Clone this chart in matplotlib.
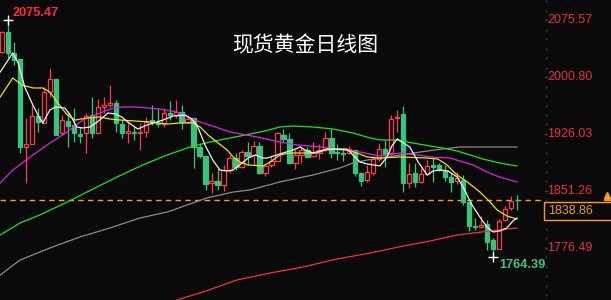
import matplotlib
matplotlib.use("Agg")
import matplotlib.pyplot as plt
import matplotlib.transforms as mtransforms
from matplotlib.patches import Rectangle

BG = "#0a0a0a"
UP = "#ff3b50"
DOWN = "#36c47c"
AXIS_RED = "#e8303e"

# daily candles: open, high, low, close
opens = [2033.6, 2059.8, 2032.3, 2024.4, 1909.0, 1912.9, 1949.6, 1940.5, 1981.1, 1998.2,
         1927.3, 1943.1, 1937.8, 1926.0, 1927.3, 1950.9, 1927.3, 1961.4, 1964.1, 1966.7,
         1939.1, 1927.3, 1928.7, 1927.3, 1928.7, 1944.4, 1940.5, 1939.1, 1953.6, 1950.9,
         1954.9, 1941.8, 1947.0, 1909.0, 1897.2, 1861.7, 1864.4, 1859.1, 1878.8, 1894.5,
         1882.7, 1902.4, 1898.5, 1910.3, 1874.9, 1885.4, 1890.6, 1924.7, 1919.5, 1888.0,
         1898.5, 1905.0, 1897.2, 1901.1, 1905.0, 1920.8, 1902.4, 1901.1, 1901.1, 1905.0,
         1874.9, 1865.7, 1874.9, 1893.2, 1906.3, 1901.1, 1947.0, 1952.3, 1861.7, 1874.9,
         1863.1, 1873.6, 1885.4, 1885.4, 1877.5, 1869.6, 1864.4, 1865.7, 1836.8, 1805.3,
         1804.0, 1808.0, 1787.0, 1775.2, 1813.2, 1828.9, 1839.6]
highs = [2061.0, 2075.47, 2046.7, 2024.4, 1947.0, 1964.1, 1960.1, 1988.1, 2012.6, 1998.2,
         1950.9, 1954.9, 1960.1, 1935.2, 1953.6, 1974.6, 1972.0, 1974.6, 1990.3, 1970.6,
         1944.4, 1941.8, 1936.5, 1940.5, 1948.3, 1964.1, 1960.1, 1960.1, 1969.3, 1970.6,
         1964.1, 1948.3, 1947.0, 1914.2, 1898.5, 1874.9, 1881.4, 1885.4, 1898.5, 1901.1,
         1905.0, 1915.5, 1916.8, 1915.5, 1885.4, 1898.5, 1928.7, 1932.6, 1927.3, 1906.3,
         1909.0, 1909.0, 1915.5, 1912.9, 1928.7, 1932.6, 1912.9, 1907.7, 1910.3, 1905.0,
         1876.2, 1885.4, 1897.2, 1914.2, 1918.2, 1950.9, 1957.5, 1962.8, 1888.0, 1888.0,
         1881.4, 1891.9, 1894.5, 1888.0, 1885.4, 1874.9, 1876.2, 1872.2, 1836.8, 1815.8,
         1818.5, 1813.2, 1789.6, 1814.5, 1831.6, 1844.7, 1846.0]
lows = [2032.0, 2025.7, 2016.5, 1901.1, 1861.7, 1912.9, 1928.7, 1940.5, 1974.6, 1924.7,
        1924.7, 1909.0, 1915.5, 1914.2, 1901.1, 1920.8, 1927.3, 1953.6, 1961.4, 1928.7,
        1920.8, 1914.2, 1918.2, 1905.0, 1922.1, 1937.8, 1935.2, 1935.2, 1944.4, 1947.0,
        1932.6, 1940.5, 1881.4, 1894.5, 1852.6, 1848.6, 1852.6, 1851.3, 1874.9, 1878.8,
        1881.4, 1885.4, 1885.4, 1873.6, 1870.9, 1882.7, 1890.6, 1915.5, 1886.7, 1880.1,
        1888.0, 1895.9, 1895.9, 1893.2, 1903.7, 1894.5, 1891.9, 1890.6, 1899.8, 1870.9,
        1857.8, 1863.1, 1872.2, 1890.6, 1882.7, 1898.5, 1928.7, 1850.0, 1855.2, 1856.5,
        1861.7, 1872.2, 1863.1, 1877.5, 1864.4, 1850.0, 1860.4, 1832.9, 1798.8, 1800.1,
        1804.0, 1773.9, 1764.39, 1775.2, 1811.9, 1826.3, 1826.3]
closes = [2059.8, 2032.3, 2023.1, 1909.0, 1912.9, 1949.6, 1941.8, 1981.1, 1998.2, 1924.7,
          1944.4, 1936.5, 1927.3, 1923.4, 1949.6, 1927.3, 1961.4, 1964.1, 1966.7, 1940.5,
          1927.3, 1930.0, 1927.3, 1928.7, 1941.8, 1941.8, 1939.1, 1953.6, 1950.9, 1954.9,
          1941.8, 1945.7, 1909.0, 1897.2, 1860.4, 1864.4, 1859.1, 1878.8, 1894.5, 1882.7,
          1902.4, 1897.2, 1910.3, 1874.9, 1884.1, 1890.6, 1927.3, 1919.5, 1888.0, 1898.5,
          1905.0, 1895.9, 1901.1, 1905.0, 1920.8, 1901.1, 1901.1, 1899.8, 1906.3, 1874.9,
          1864.4, 1876.2, 1893.2, 1906.3, 1899.8, 1945.7, 1948.3, 1861.7, 1873.6, 1863.1,
          1873.6, 1884.1, 1882.7, 1878.8, 1869.6, 1863.1, 1868.3, 1836.8, 1805.3, 1804.0,
          1806.7, 1784.3, 1775.2, 1811.9, 1827.6, 1838.1, 1838.86]

# moving averages: (day index, price)
ma5_x = [-0.3, 1.8, 2.7, 3.8, 5.0, 6.0, 6.8, 8.0, 8.9, 10.5, 11.4, 12.5, 13.5, 14.7, 15.9,
         16.9, 17.7, 18.9, 20.0, 21.0, 22.2, 22.7, 24.2, 26.9, 28.6, 30.6, 31.7, 32.7, 33.9,
         35.2, 36.4, 37.6, 38.6, 39.7, 41.1, 42.3, 43.6, 44.3, 45.9, 46.9, 48.6, 49.8, 50.6,
         51.9, 53.1, 54.3, 57.6, 58.6, 59.8, 61.0, 63.1, 64.3, 65.1, 66.0, 68.1, 69.5, 71.0,
         72.0, 73.1, 74.5, 76.0, 77.0, 78.5, 79.8, 81.0, 82.0, 83.1, 84.3, 85.3, 86.0]
ma5_y = [2007.4, 2032.3, 2019.2, 1987.7, 1966.7, 1950.9, 1940.5, 1957.5, 1961.4, 1960.1,
         1950.9, 1935.2, 1933.9, 1935.2, 1941.8, 1948.3, 1953.6, 1952.3, 1948.3, 1941.8,
         1935.2, 1932.6, 1937.8, 1944.4, 1949.6, 1950.9, 1945.7, 1935.2, 1911.6, 1891.9,
         1878.8, 1877.5, 1878.8, 1885.4, 1894.5, 1898.5, 1894.5, 1894.5, 1898.5, 1901.1,
         1905.0, 1909.0, 1905.0, 1901.1, 1903.7, 1906.3, 1906.3, 1898.5, 1889.3, 1886.7,
         1884.1, 1895.9, 1910.3, 1919.5, 1909.0, 1889.3, 1872.2, 1877.5, 1878.8, 1877.5,
         1869.6, 1856.5, 1832.9, 1817.1, 1804.0, 1797.5, 1798.8, 1802.7, 1811.9, 1815.8]

ma10_x = [-0.3, 1.8, 3.3, 5.2, 6.8, 8.0, 9.2, 10.9, 12.2, 14.2, 16.4, 18.0, 19.7, 22.2,
          24.7, 27.6, 29.7, 31.9, 33.1, 34.4, 35.9, 37.6, 38.6, 39.7, 41.1, 43.6, 44.8,
          46.4, 48.1, 51.9, 53.1, 54.3, 57.6, 59.3, 61.0, 63.1, 66.5, 71.0, 72.8, 74.3,
          76.0, 77.7, 79.8, 81.5, 82.7, 84.3, 86.0]
ma10_y = [1974.6, 1999.5, 1990.3, 1986.4, 1986.4, 1981.1, 1968.0, 1951.0, 1944.4, 1947.0,
          1948.3, 1945.7, 1944.4, 1943.1, 1941.8, 1939.1, 1940.5, 1940.5, 1935.2, 1924.7,
          1915.5, 1905.0, 1895.9, 1889.3, 1885.4, 1884.1, 1889.3, 1898.5, 1901.1, 1901.1,
          1902.4, 1906.3, 1905.0, 1901.1, 1895.9, 1894.5, 1895.9, 1894.5, 1893.2, 1885.4,
          1872.2, 1863.1, 1850.0, 1836.8, 1826.3, 1818.5, 1814.5]

ma20_x = [-0.3, 1.8, 4.7, 8.0, 10.9, 13.5, 16.4, 18.5, 20.2, 22.5, 26.4, 29.2, 30.9, 33.1,
          38.1, 42.6, 46.4, 49.3, 53.1, 56.4, 59.8, 63.1, 66.5, 69.3, 71.5, 74.8, 76.5,
          78.7, 81.0, 83.1, 86.0]
ma20_y = [1861.7, 1878.8, 1895.9, 1914.2, 1928.7, 1944.4, 1953.6, 1960.1, 1961.4, 1961.4,
          1958.8, 1954.9, 1948.3, 1941.8, 1928.7, 1922.1, 1915.5, 1911.6, 1909.0, 1906.3,
          1902.4, 1897.2, 1901.1, 1898.5, 1895.9, 1894.5, 1890.6, 1885.4, 1876.2, 1869.6,
          1863.1]

ma60_x = [-0.3, 3.0, 6.3, 10.9, 15.2, 19.2, 23.5, 27.6, 31.4, 34.7, 38.1, 41.4, 43.9, 46.4,
          48.6, 51.9, 55.3, 58.6, 61.5, 63.1, 66.0, 68.6, 71.5, 73.6, 76.0, 78.2, 80.3,
          83.1, 86.0]
ma60_y = [1793.5, 1809.3, 1819.8, 1836.8, 1853.9, 1869.6, 1885.4, 1898.5, 1909.0, 1915.5,
          1920.8, 1926.0, 1930.0, 1935.2, 1936.5, 1935.2, 1932.6, 1927.3, 1920.8, 1918.2,
          1918.2, 1914.2, 1910.3, 1907.7, 1903.7, 1898.5, 1893.2, 1888.0, 1884.1]

ma120_x = [-0.3, 3.0, 8.0, 13.0, 18.0, 23.0, 27.6, 30.9, 34.2, 38.6, 41.4, 46.4, 51.9, 56.4,
           58.6, 61.0, 64.3, 67.6, 71.0, 73.6, 76.5, 86.0]
ma120_y = [1741.1, 1760.7, 1776.5, 1790.9, 1802.7, 1815.8, 1823.7, 1832.9, 1842.1, 1849.9,
           1852.6, 1863.1, 1872.2, 1881.4, 1888.0, 1891.9, 1895.9, 1899.8, 1903.7, 1906.3,
           1909.0, 1909.0]

ma250_x = [29.2, 33.6, 39.2, 44.8, 50.3, 55.9, 61.5, 67.0, 71.5, 76.0, 81.5, 86.0]
ma250_y = [1708.3, 1718.8, 1734.5, 1743.7, 1751.6, 1762.0, 1769.9, 1779.1, 1785.7, 1793.5,
           1798.8, 1802.7]

axis_ticks = [2075.57, 2000.80, 1926.03, 1851.26, 1776.49]
last_price = 1838.86
title = "现货黄金日线图"

plt.rcParams["font.family"] = ["Liberation Sans", "DejaVu Sans"]

fig = plt.figure(figsize=(6.11, 3.0), dpi=100, facecolor=BG)
ax = fig.add_axes([0, 0, 1, 1])
ax.set_facecolor(BG)
ax.set_xlim(-0.334, 101.70)
ax.set_ylim(1708.27, 2101.81)
ax.axis("off")

# candles
w = 0.72
for i, (o, h, l, c) in enumerate(zip(opens, highs, lows, closes)):
    up = c >= o
    col = UP if up else DOWN
    lo_b, hi_b = min(o, c), max(o, c)
    if hi_b - lo_b < 1.2:
        hi_b = lo_b + 1.2
    ax.vlines(i, l, h, color=col, lw=0.9, zorder=2)
    ax.add_patch(Rectangle((i - w / 2, lo_b), w, hi_b - lo_b,
                           facecolor=BG if up else col, edgecolor=col,
                           lw=0.9, zorder=3))

# moving averages
ma_lines = [
    (ma250_x, ma250_y, "#ff3030"),
    (ma120_x, ma120_y, "#8a8a8a"),
    (ma60_x, ma60_y, "#22e022"),
    (ma20_x, ma20_y, "#e020e0"),
    (ma10_x, ma10_y, "#e8e020"),
    (ma5_x, ma5_y, "#f0f0f0"),
]
for xs, ys, col in ma_lines:
    ax.plot(xs, ys, color=col, lw=0.9, zorder=4)

# last price dashed line
ax.axhline(last_price, xmax=543 / 611, color="#ff9a1e", lw=1.0,
           dashes=(4, 3), zorder=1)

# high / low markers
hi_i = highs.index(max(highs))
lo_i = lows.index(min(lows))
ax.plot([hi_i], [max(highs)], marker="+", ms=7, mew=1, color="white", zorder=5)
ax.plot([lo_i], [min(lows)], marker="+", ms=7, mew=1, color="white", zorder=5)
ax.text(1.8, max(highs) + 1.5, f"{max(highs):.2f}", color="#ff2a3c",
        fontsize=9.2, fontweight="bold", ha="left", va="bottom")
ax.text(lo_i + 1.0, min(lows) - 2.0, f"{min(lows):.2f}", color="#3cc47c",
        fontsize=9.2, fontweight="bold", ha="left", va="top")

# price axis on the right
trans = mtransforms.blended_transform_factory(ax.transAxes, ax.transData)
for v in axis_ticks:
    ax.text(547 / 611, v, f"{v:.2f}", transform=trans, color=AXIS_RED,
            fontsize=9, ha="left", va="center")
    ax.plot([544.5 / 611, 547 / 611], [v, v], transform=trans, color="#555555", lw=0.8)
step = (axis_ticks[0] - axis_ticks[1]) / 6
v = axis_ticks[0] + 2 * step
while v > 1708:
    ax.plot([545.5 / 611], [v], transform=trans, marker="s", ms=0.6,
            color="#333333", ls="none")
    v -= step

# last price box
ax.add_patch(Rectangle((544 / 611, 1813.2), 70 / 611, 24.0,
                       transform=trans, facecolor=BG, edgecolor="#ff9a1e",
                       lw=1.0, zorder=6, clip_on=False))
ax.text(548 / 611, 1825.0, f"{last_price:.2f}", transform=trans,
        color="#e89a2a", fontsize=9, ha="left", va="center", zorder=7)
ax.plot([607 / 611], [last_price + 4.0], transform=trans, marker="^", ms=4,
        color="#ff9a1e", zorder=7)
ax.plot([607 / 611], [last_price + 7.5], transform=trans, marker="^", ms=4,
        color="#ff9a1e", zorder=7)

ax.text(305 / 611, 1 - 45 / 300, title, transform=ax.transAxes, color="white",
        fontsize=15, ha="center", va="center",
        family=["Noto Sans CJK SC", "DejaVu Sans"])

fig.savefig("out.png", dpi=100, facecolor=BG)
